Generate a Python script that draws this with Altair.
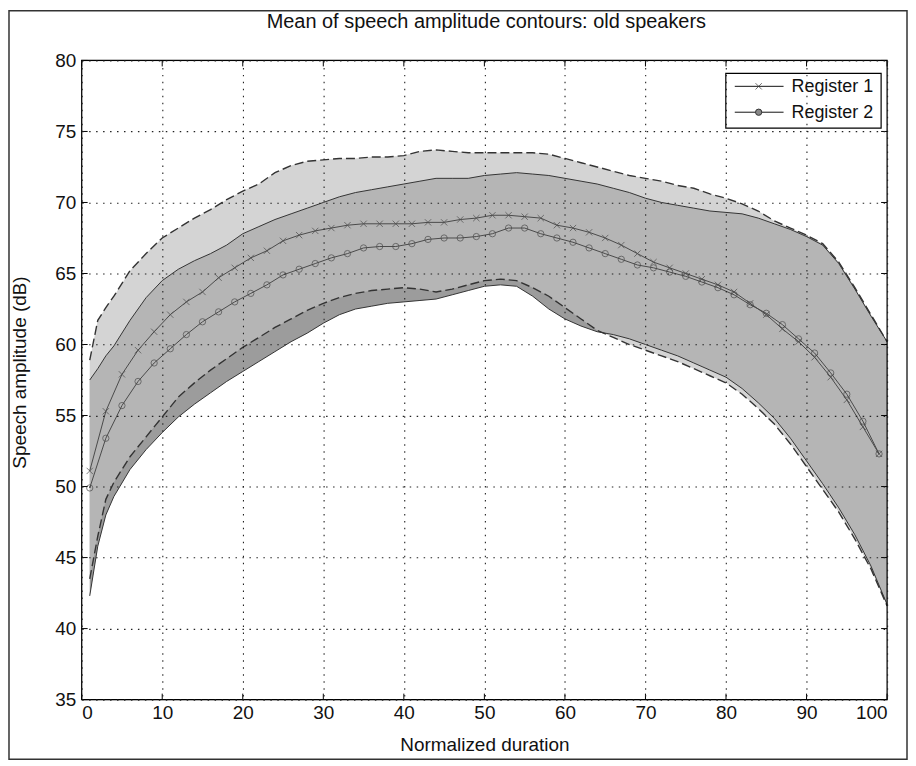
import altair as alt
import pandas as pd

# ---------------- data ----------------
series_names = ["Register 1", "Register 2"]
title_text = "Mean of speech amplitude contours: old speakers"
x_title = "Normalized duration"
y_title = "Speech amplitude (dB)"
x_ticks = [0, 10, 20, 30, 40, 50, 60, 70, 80, 90, 100]
y_ticks = [35, 40, 45, 50, 55, 60, 65, 70, 75, 80]

marker_x = list(range(1, 100, 2))
reg1_mean = [51.1, 55.3, 57.9, 59.6, 60.9, 62.1, 63.0, 63.7, 64.7, 65.4,
             66.1, 66.6, 67.3, 67.7, 68.0, 68.2, 68.4, 68.5, 68.5, 68.5,
             68.5, 68.6, 68.6, 68.8, 68.9, 69.1, 69.1, 69.0, 68.9, 68.4,
             68.2, 67.9, 67.5, 67.0, 66.4, 65.8, 65.4, 65.0, 64.6, 64.2,
             63.7, 62.9, 62.1, 61.1, 60.2, 59.1, 57.7, 56.1, 54.2, 52.3]
reg2_mean = [49.9, 53.4, 55.7, 57.4, 58.7, 59.7, 60.7, 61.6, 62.3, 63.0,
             63.6, 64.2, 64.9, 65.3, 65.7, 66.1, 66.4, 66.8, 66.9, 66.9,
             67.1, 67.4, 67.5, 67.5, 67.6, 67.8, 68.2, 68.2, 67.8, 67.5,
             67.2, 66.8, 66.4, 66.0, 65.6, 65.4, 65.1, 64.8, 64.4, 64.0,
             63.5, 62.8, 62.2, 61.4, 60.4, 59.4, 58.0, 56.5, 54.6, 52.3]

band_x = [1, 2, 3, 4, 6, 8, 10, 12, 14, 16, 18, 20, 22, 24, 26, 28, 30, 32,
          34, 36, 38, 40, 42, 44, 46, 48, 50, 52, 54, 56, 58, 60, 62, 64, 66,
          68, 70, 72, 74, 76, 78, 80, 82, 84, 86, 88, 90, 92, 94, 96, 98, 100]
reg1_upper = [58.9, 61.7, 62.6, 63.4, 65.2, 66.4, 67.5, 68.2, 68.9, 69.5,
              70.2, 70.8, 71.3, 72.1, 72.6, 72.9, 73.0, 73.1, 73.1, 73.2,
              73.2, 73.3, 73.6, 73.7, 73.6, 73.5, 73.5, 73.5, 73.5, 73.5,
              73.4, 73.1, 72.8, 72.5, 72.2, 71.9, 71.7, 71.5, 71.2, 71.0,
              70.6, 70.3, 69.9, 69.4, 68.7, 68.2, 67.7, 67.1, 65.8, 64.0,
              62.1, 60.2]
reg1_lower = [43.5, 46.5, 49.1, 50.3, 52.1, 53.5, 54.9, 56.3, 57.3, 58.2,
              59.0, 59.8, 60.5, 61.2, 61.8, 62.4, 62.9, 63.3, 63.6, 63.8,
              63.9, 64.0, 63.9, 63.7, 63.9, 64.2, 64.5, 64.6, 64.5, 64.0,
              63.4, 62.6, 61.8, 61.0, 60.5, 60.0, 59.6, 59.2, 58.8, 58.3,
              57.8, 57.3, 56.5, 55.5, 54.4, 53.0, 51.4, 49.8, 48.2, 46.3,
              44.2, 41.6]
reg2_upper = [57.5, 58.3, 59.2, 59.9, 61.7, 63.3, 64.5, 65.3, 65.9, 66.4,
              67.0, 67.8, 68.3, 68.8, 69.2, 69.6, 70.0, 70.4, 70.7, 70.9,
              71.1, 71.3, 71.5, 71.7, 71.7, 71.7, 71.9, 72.0, 72.1, 72.0,
              71.9, 71.7, 71.5, 71.3, 71.0, 70.7, 70.3, 70.0, 69.8, 69.6,
              69.4, 69.3, 69.2, 68.9, 68.5, 68.1, 67.6, 67.0, 65.7, 63.9,
              62.0, 60.2]
reg2_lower = [42.3, 45.8, 48.0, 49.3, 51.2, 52.6, 53.8, 54.9, 55.8, 56.6,
              57.4, 58.1, 58.8, 59.5, 60.2, 60.8, 61.5, 62.1, 62.5, 62.7,
              62.9, 63.0, 63.1, 63.2, 63.5, 63.8, 64.1, 64.2, 64.1, 63.4,
              62.5, 61.8, 61.3, 60.9, 60.7, 60.4, 60.0, 59.6, 59.2, 58.7,
              58.2, 57.7, 56.9, 55.9, 54.8, 53.4, 51.8, 50.2, 48.5, 46.6,
              44.4, 41.7]

# ---------------- tables ----------------
means = pd.DataFrame({"x": marker_x, "r1": reg1_mean, "r2": reg2_mean})
bands = pd.DataFrame({"x": band_x, "r1u": reg1_upper, "r1l": reg1_lower,
                      "r2u": reg2_upper, "r2l": reg2_lower})
xt = pd.DataFrame({"t": x_ticks})
yt = pd.DataFrame({"t": y_ticks})
one = alt.Data(values=[{"a": 1}])

W, H = 809, 642
FONT = "Liberation Sans"
LINE = "#4a4a4a"
EDGE = "#333333"

xs = alt.Scale(domain=[0, 100], nice=False, zero=False)
ys = alt.Scale(domain=[35, 80], nice=False, zero=False)
grid_common = dict(grid=True, gridDash=[1.5, 5.5], gridColor="#222222",
                   gridWidth=1.1, domain=False, ticks=False, labelFont=FONT,
                   labelFontSize=19, labelColor="#111111", titleFont=FONT,
                   titleFontWeight="normal", titleColor="#111111", zindex=1)
xa = alt.Axis(values=x_ticks, labelPadding=4, title=x_title, titleFontSize=19,
              titleY=45, titleBaseline="middle", **grid_common)
ya = alt.Axis(values=y_ticks, labelPadding=6, title=y_title, titleFontSize=19,
              titleX=-62, titleY=H / 2 - 8, titleAngle=-90,
              titleBaseline="middle", **grid_common)


def X(f):
    return alt.X(f, type="quantitative", scale=xs, axis=xa)


def Y(f):
    return alt.Y(f, type="quantitative", scale=ys, axis=ya)


base_b = alt.Chart(bands)
r2_area = base_b.mark_area(color="#9c9c9c", opacity=1, interpolate="linear").encode(
    x=X("x"), y=Y("r2l"), y2="r2u")
r1_area = base_b.mark_area(color="#c0c0c0", opacity=0.69, interpolate="linear").encode(
    x=X("x"), y=Y("r1l"), y2="r1u")

edges = []
for f in ["r2u", "r2l"]:
    edges.append(base_b.mark_line(color=EDGE, strokeWidth=1).encode(x=X("x"), y=Y(f)))
for f in ["r1u", "r1l"]:
    edges.append(base_b.mark_line(color=EDGE, strokeWidth=1.4, strokeDash=[9, 4]).encode(
        x=X("x"), y=Y(f)))

XSHAPE = "M-1,-1L1,1M-1,1L1,-1"
base_m = alt.Chart(means)
l1 = base_m.mark_line(color=LINE, strokeWidth=1).encode(x=X("x"), y=Y("r1"))
p1 = base_m.mark_point(shape=XSHAPE, color=LINE, size=40, strokeWidth=1,
                       filled=False).encode(x=X("x"), y=Y("r1"))
l2 = base_m.mark_line(color=LINE, strokeWidth=1).encode(x=X("x"), y=Y("r2"))
p2 = base_m.mark_point(shape="circle", color=LINE, size=40, strokeWidth=1,
                       filled=False).encode(x=X("x"), y=Y("r2"))

# inward ticks on all four sides
tk = []
tk.append(alt.Chart(xt).mark_rule(color="black").encode(x=X("t"), y=alt.value(H), y2=alt.value(H - 6)))
tk.append(alt.Chart(xt).mark_rule(color="black").encode(x=X("t"), y=alt.value(0), y2=alt.value(6)))
tk.append(alt.Chart(yt).mark_rule(color="black").encode(y=Y("t"), x=alt.value(0), x2=alt.value(6)))
tk.append(alt.Chart(yt).mark_rule(color="black").encode(y=Y("t"), x=alt.value(W), x2=alt.value(W - 6)))

box = alt.Chart(one).mark_rect(filled=False, stroke="black", strokeWidth=1.2).encode(
    x=alt.value(0), x2=alt.value(W), y=alt.value(0), y2=alt.value(H))
frame = alt.Chart(one).mark_rect(filled=False, stroke="#333333", strokeWidth=1.5).encode(
    x=alt.value(-73), x2=alt.value(829), y=alt.value(-50), y2=alt.value(702))

title = alt.Chart(one).mark_text(text=title_text, font=FONT, fontSize=20,
                                 align="center", baseline="middle",
                                 color="#111111").encode(
    x=alt.value(W / 2 + 2), y=alt.value(-39))

# legend
lg = []
lg.append(alt.Chart(one).mark_rect(fill="white", stroke="black", strokeWidth=1.2).encode(
    x=alt.value(647), x2=alt.value(803), y=alt.value(13), y2=alt.value(68)))
for i, (name, shp, fill) in enumerate([(series_names[0], XSHAPE, False),
                                       (series_names[1], "circle", True)]):
    yy = 26 + i * 26
    lg.append(alt.Chart(one).mark_rule(color="#111111", strokeWidth=1).encode(
        x=alt.value(656), x2=alt.value(705), y=alt.value(yy)))
    if fill:
        lg.append(alt.Chart(one).mark_point(shape=shp, size=40, fill="#888888",
                                            stroke="#333333", strokeWidth=1,
                                            filled=True, opacity=1).encode(
            x=alt.value(680), y=alt.value(yy)))
    else:
        lg.append(alt.Chart(one).mark_point(shape=shp, size=40, color="#333333",
                                            strokeWidth=1, filled=False).encode(
            x=alt.value(680), y=alt.value(yy)))
    lg.append(alt.Chart(one).mark_text(text=name, font=FONT, fontSize=18, align="left",
                                       baseline="middle", color="#111111").encode(
        x=alt.value(713), y=alt.value(yy + 1)))

chart = alt.layer(
    r2_area, r1_area, *edges, l1, l2, p1, p2, *tk, box, *lg, title, frame
).properties(
    width=W, height=H,
    autosize=alt.AutoSizeParams(type="none"),
    padding={"left": 74, "top": 51, "right": 21, "bottom": 61},
).configure_view(stroke=None).configure(background="white")

chart.save("out.html", embed_options={"renderer": "svg", "actions": False})
